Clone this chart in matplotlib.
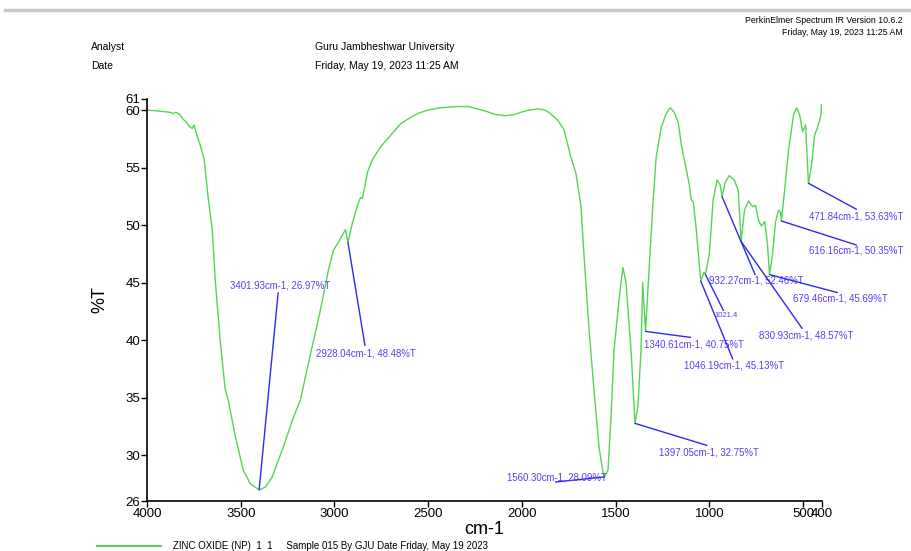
import numpy as np
import matplotlib.pyplot as plt

plt.rcParams['font.family'] = ['Liberation Sans', 'DejaVu Sans']

# spectrum (wavenumber cm-1, %T)
wavenumber = [4000, 3930, 3877, 3861, 3845, 3824, 3808, 3792, 3776, 3759, 3749, 3738,
              3717, 3695, 3674, 3652, 3636, 3610, 3583, 3567, 3530, 3487, 3449, 3401.93,
              3369, 3332, 3273, 3225, 3182, 3129, 3075, 3032, 3006, 2979, 2952, 2941,
              2928.04, 2904, 2877, 2861, 2851, 2824, 2797, 2754, 2701, 2647, 2600, 2557,
              2500, 2434, 2350, 2284, 2240, 2193, 2140, 2086, 2040, 2006, 1960, 1915,
              1880, 1856, 1808, 1776, 1739, 1712, 1685, 1669,
              1642, 1616, 1589, 1568, 1560.30, 1541, 1525, 1509, 1493, 1477, 1461, 1445,
              1418, 1397.05, 1381, 1365, 1356, 1340.61, 1316, 1300, 1284, 1257, 1230, 1209,
              1188, 1166, 1150, 1134, 1107, 1097, 1086, 1070, 1054, 1046.19, 1028, 1021.4,
              1001, 980, 959, 943, 932.27, 916, 894, 867, 846, 830.93, 813, 792, 770, 754,
              738, 722, 705, 690, 679.46, 664, 647, 631, 620, 616.16, 599, 578, 551, 535,
              519, 503, 487, 471.84, 455, 439, 423, 412, 405, 402, 400]
transmittance = [60.0, 59.9, 59.8, 59.7, 59.8, 59.6, 59.2, 59.0, 58.6, 58.4, 58.7, 58.0,
                 57.0, 55.7, 52.4, 49.6, 45.2, 40.0, 35.7, 34.8, 31.7, 28.7, 27.5, 26.97,
                 27.2, 28.1, 30.7, 33.0, 34.8, 38.7, 42.6, 46.1, 47.8, 48.5, 49.3, 49.6,
                 48.48, 50.2, 51.7, 52.4, 52.3, 54.6, 55.7, 56.8, 57.8, 58.8, 59.3, 59.7,
                 60.0, 60.2, 60.3, 60.3, 60.1, 59.9, 59.6, 59.5, 59.6, 59.8, 60.0, 60.1,
                 60.0, 59.8, 59.1, 58.3, 55.9, 54.5, 51.6, 47.4,
                 40.9, 35.7, 30.7, 28.5, 28.09, 28.7, 33.3, 39.1, 41.7, 44.3, 46.3, 45.0,
                 39.1, 32.75, 34.3, 39.1, 45.0, 40.75, 47.8, 52.2, 55.9, 58.5, 59.7, 60.2,
                 59.8, 58.9, 57.0, 55.7, 53.5, 52.2, 52.0, 49.6, 46.5, 45.13, 45.9, 45.7,
                 47.4, 52.2, 53.9, 53.5, 52.46, 53.7, 54.3, 53.9, 53.0, 48.57, 51.3, 52.1,
                 51.6, 51.7, 50.4, 49.9, 50.3, 48.3, 45.69, 47.4, 50.3, 51.3, 51.1, 50.35,
                 53.0, 56.5, 59.6, 60.2, 59.6, 58.1, 58.7, 53.63, 55.2, 57.8, 58.5, 59.1,
                 59.6, 60.5, 60.4]

# labelled peaks
peak_wn = [3401.93, 2928.04, 1560.30, 1397.05, 1340.61, 1046.19, 1021.4,
           932.27, 830.93, 679.46, 616.16, 471.84]
peak_T = [26.97, 48.48, 28.09, 32.75, 40.75, 45.13, None,
          52.46, 48.57, 45.69, 50.35, 53.63]
peak_T_plot = [26.97, 48.48, 28.09, 32.75, 40.75, 45.13, 45.7,
               52.46, 48.57, 45.69, 50.35, 53.63]
# (line end offset, text offset) in pixels from the peak
line_off = [(19, 197), (17, -103), (-49, -5), (72, -22), (45, -6), (32, -78),
            (18, -36), (33, -78), (61, -87), (68, -18), (75, -24), (48, -26)]
text_off = [(-29, 204), (-32, -111), (-97, -1), (24, -29), (-2, -13), (-17, -84),
            (9, -41), (-13, -84), (18, -94), (23, -24), (28, -30), (1, -33)]

xticks = [4000, 3500, 3000, 2500, 2000, 1500, 1000, 500, 400]
yticks = [26, 30, 35, 40, 45, 50, 55, 60, 61]

green = '#55d455'
blue = '#2b2bf0'
label_blue = '#5a3cf5'

fig = plt.figure(figsize=(9.12, 5.51), dpi=100)
ax = fig.add_axes([0.1612, 0.0907, 0.740, 0.7305])

ax.plot(wavenumber, transmittance, color=green, lw=1.0)
ax.set_xlim(4000, 400)
ax.set_ylim(26, 61)
ax.set_xticks(xticks)
ax.set_yticks(yticks)
ax.tick_params(labelsize=9.5, length=4, width=1, direction='out', pad=1)
for s in ['top', 'right']:
    ax.spines[s].set_visible(False)
for s in ['left', 'bottom']:
    ax.spines[s].set_linewidth(1.2)

ax.set_xlabel('cm-1', fontsize=13, labelpad=1)
ax.set_ylabel('%T', fontsize=13, labelpad=12)

for wn, t, tp, lo, to in zip(peak_wn, peak_T, peak_T_plot, line_off, text_off):
    ax.annotate('', xy=(wn, tp), xytext=lo, textcoords='offset pixels',
                arrowprops=dict(arrowstyle='-', color=blue, lw=1.0,
                                shrinkA=0, shrinkB=0))
    if t is None:
        txt, fs = '{:.1f}'.format(wn), 5.5
    else:
        txt, fs = '{:.2f}cm-1, {:.2f}%T'.format(wn, t), 6.9
    ax.annotate(txt, xy=(wn, tp), xytext=to, textcoords='offset pixels',
                fontsize=fs, color=label_blue, ha='left', va='center')

# header
fig.add_artist(plt.Line2D([0.005, 1.0], [0.982, 0.982], color='#c8c8c8', lw=2.5))
fig.text(0.990, 0.963, 'PerkinElmer Spectrum IR Version 10.6.2', fontsize=6.3,
         ha='right', va='center')
fig.text(0.990, 0.941, 'Friday, May 19, 2023 11:25 AM', fontsize=6.3,
         ha='right', va='center')
fig.text(0.0998, 0.915, 'Analyst', fontsize=7.5, va='center')
fig.text(0.0998, 0.880, 'Date', fontsize=7.5, va='center')
fig.text(0.3454, 0.915, 'Guru Jambheshwar University', fontsize=7.5, va='center')
fig.text(0.3454, 0.880, 'Friday, May 19, 2023 11:25 AM', fontsize=7.5, va='center')

# legend line at the bottom
fig.add_artist(plt.Line2D([0.106, 0.176], [0.009, 0.009], color=green, lw=1.5))
fig.text(0.19, 0.009, 'ZINC OXIDE (NP)  1  1     Sample 015 By GJU Date Friday, May 19 2023',
         fontsize=7, va='center')

fig.savefig('out.png', dpi=100)
